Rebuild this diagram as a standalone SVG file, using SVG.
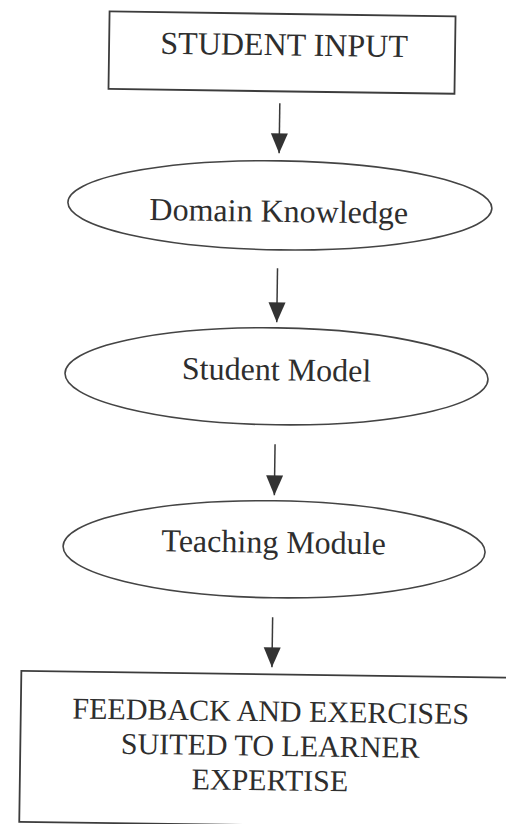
<svg xmlns="http://www.w3.org/2000/svg" width="506" height="824" viewBox="0 0 506 824">
  <style>
    .box { fill: none; stroke: #3c3c3c; stroke-width: 1.8; }
    .oval { fill: none; stroke: #444; stroke-width: 1.6; }
    .lbl { font-family: "Liberation Serif", "Times New Roman", serif; font-size: 32px; fill: #2e2e2e; text-anchor: middle; }
    .lbl.small { font-size: 30px; }
    .link { stroke: #3a3a3a; stroke-width: 1.5; marker-end: url(#head); }
  </style>
  <defs>
    <marker id="head" markerUnits="userSpaceOnUse" markerWidth="20" markerHeight="18" refX="20" refY="8.5" orient="auto">
      <path d="M0,0 L20,8.5 L0,17 Z" fill="#333"/>
    </marker>
  </defs>
  <rect width="506" height="824" fill="#fff"/>
  <!-- whole page sits slightly turned clockwise -->
  <g transform="rotate(0.8 253 412)">
    <g id="student-input">
      <rect class="box" x="104" y="13.5" width="346" height="77.5"/>
      <text class="lbl" x="279" y="55">STUDENT INPUT</text>
    </g>
    <g id="domain-knowledge">
      <ellipse class="oval" cx="277" cy="205" rx="212" ry="44.5"/>
      <text class="lbl" x="276" y="221.5">Domain Knowledge</text>
    </g>
    <g id="student-model">
      <ellipse class="oval" cx="276" cy="376" rx="211.5" ry="48.5"/>
      <text class="lbl" x="276" y="380">Student Model</text>
    </g>
    <g id="teaching-module">
      <ellipse class="oval" cx="276" cy="549" rx="211" ry="48.5"/>
      <text class="lbl" x="275.5" y="552.5">Teaching Module</text>
    </g>
    <g id="feedback">
      <rect class="box" x="25" y="674" width="520" height="151"/>
      <text class="lbl small" x="275" y="721">FEEDBACK AND EXERCISES</text>
      <text class="lbl small" x="275" y="755.5">SUITED TO LEARNER</text>
      <text class="lbl small" x="275" y="790">EXPERTISE</text>
    </g>
    <g id="connectors">
      <line class="link" x1="275.5" y1="103" x2="275.5" y2="153"/>
      <line class="link" x1="275.5" y1="268" x2="275.5" y2="322"/>
      <line class="link" x1="275.5" y1="444" x2="275.5" y2="495"/>
      <line class="link" x1="275.5" y1="617" x2="275.5" y2="667"/>
    </g>
  </g>
</svg>
